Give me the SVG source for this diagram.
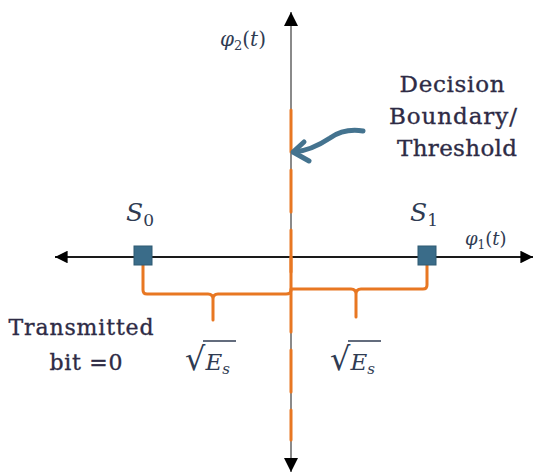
<svg xmlns="http://www.w3.org/2000/svg" width="535" height="475" viewBox="0 0 535 475">
<style>
.lbl{font-family:"DejaVu Serif","Liberation Serif",serif;fill:#2e2b45;stroke:#2e2b45;stroke-width:0.35}
.math{font-family:"DejaVu Serif","Liberation Serif",serif;font-style:italic;fill:#2f3b52}
.orange{stroke:#E87722;stroke-width:3;fill:none;stroke-linecap:round;stroke-linejoin:round}
.pt{fill:#3a6c89;stroke:#2f5a73;stroke-width:1}
</style>
<defs>
<marker id="ah" viewBox="0 0 10 10" refX="10" refY="5" markerWidth="7" markerHeight="7" orient="auto-start-reverse" markerUnits="strokeWidth">
<path d="M0,0 L10,5 L0,10 Z" fill="#000"/>
</marker>
</defs>
<g id="connectors">
<line id="axis-y" x1="291" y1="12" x2="291" y2="472" stroke="#8a8a8a" stroke-width="2" marker-start="url(#ah)" marker-end="url(#ah)"/>
<line id="axis-x" x1="55" y1="257" x2="533" y2="257" stroke="#1a1a1a" stroke-width="1.8" marker-start="url(#ah)" marker-end="url(#ah)"/>
<line id="threshold" x1="291" y1="110" x2="291" y2="440" class="orange" stroke-linecap="butt" stroke-dasharray="42 18"/>
<path id="brace-left" class="orange" d="M143,265 L143,290 Q143,294 147,294 L208,294 Q213,294 213,299 L213,320 M213,299 Q213,294 218,294 L286,294 Q291,294 291,290 L291,257"/>
<path id="brace-right" class="orange" d="M427,265 L427,285 Q427,289 423,289 L361,289 Q356,289 356,294 L356,317 M356,294 Q356,289 351,289 L291,289"/>
<g id="pointer" fill="none" stroke="#44738f" stroke-width="5" stroke-linecap="round" stroke-linejoin="round">
<path d="M363,131 C350,129 340,131 330,138 C318,146 306,151 294,152"/>
<path d="M304,142 L293,152 L309,161"/>
</g>
</g>
<g id="s0">
<rect class="pt" x="134" y="246" width="18" height="19"/>
<text class="math" x="126" y="221" font-size="25">S<tspan font-size="17" font-style="normal" dy="5">0</tspan></text>
</g>
<g id="s1">
<rect class="pt" x="418" y="246" width="18" height="19"/>
<text class="math" x="410" y="221" font-size="25">S<tspan font-size="17" font-style="normal" dy="5">1</tspan></text>
</g>
<g id="phi2">
<text class="math" x="220" y="46" font-size="20">φ<tspan font-size="13" font-style="normal" dy="4">2</tspan><tspan dy="-4" font-style="normal">(</tspan>t<tspan font-style="normal">)</tspan></text>
</g>
<g id="phi1">
<text class="math" x="465" y="245" font-size="18">φ<tspan font-size="12" font-style="normal" dy="4">1</tspan><tspan dy="-4" font-style="normal">(</tspan>t<tspan font-style="normal">)</tspan></text>
</g>
<g id="decision-label">
<text class="lbl" font-size="23" text-anchor="middle">
<tspan x="456" y="92" textLength="105">Decision</tspan>
<tspan x="457" y="124" textLength="128">Boundary/</tspan>
<tspan x="457" y="156" textLength="120">Threshold</tspan>
</text>
</g>
<g id="tx-label">
<text class="lbl" font-size="22" text-anchor="middle">
<tspan x="85" y="335" textLength="145">Transmitted</tspan>
<tspan x="86" y="370" textLength="73">bit =0</tspan>
</text>
</g>
<g id="es-left">
<text class="math" x="185" y="370" font-size="23"><tspan font-style="normal" font-size="32">√</tspan>E<tspan font-size="15" dy="4">s</tspan></text>
<line x1="203" y1="341" x2="236" y2="341" stroke="#2f3b52" stroke-width="1.4"/>
</g>
<g id="es-right">
<text class="math" x="330" y="370" font-size="23"><tspan font-style="normal" font-size="32">√</tspan>E<tspan font-size="15" dy="4">s</tspan></text>
<line x1="348" y1="341" x2="381" y2="341" stroke="#2f3b52" stroke-width="1.4"/>
</g>
</svg>
